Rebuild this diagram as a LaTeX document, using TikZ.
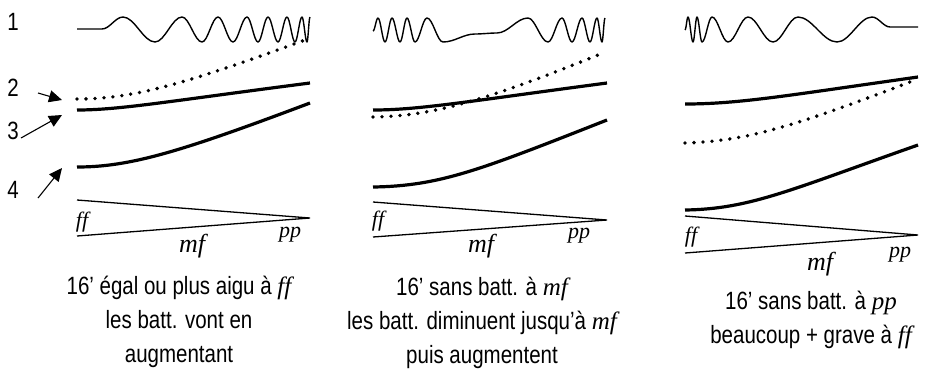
\documentclass[tikz,border=0pt]{standalone}
\usepackage{fontspec}
\setmainfont{Liberation Sans}[FakeStretch=0.82]
\newfontfamily\dynfont{Liberation Serif}
\usepackage{tikz}
\usetikzlibrary{arrows.meta}
\newcommand{\dyn}[1]{{\dynfont\itshape #1}}

\begin{document}
\begin{tikzpicture}[x=1pt,y=-1pt,
  wave/.style={line width=1.4pt,line join=round},
  partial/.style={line width=3.2pt},
  seize/.style={line width=3.8pt,line cap=round,dash pattern=on 0pt off 9pt},
  hairpin/.style={line width=1.3pt,line join=miter},
  num/.style={font=\fontsize{25}{28}\selectfont,inner sep=0pt},
  dynlabel/.style={font=\fontsize{22}{24}\selectfont,inner sep=0pt},
  dynbig/.style={font=\fontsize{26}{28}\selectfont,inner sep=0pt},
  caption/.style={font=\fontsize{25}{34}\selectfont,align=center,
                  inner sep=0pt,anchor=north},
  pointer/.style={-{Triangle[length=13pt,width=12pt]},line width=1.1pt}]
  \useasboundingbox (0,0) rectangle (925,373);

  % labels on the left
  \node[num] (n1) at (13,22) {1};
  \node[num] (n2) at (13,88) {2};
  \node[num] (n3) at (13,131) {3};
  \node[num] (n4) at (13,190) {4};
  \coordinate (s2) at (38,93);   \coordinate (t2) at (62,100);
  \coordinate (s3) at (21,138);  \coordinate (t3) at (62,115);
  \coordinate (s4) at (38,198);  \coordinate (t4) at (62,168);
  \draw[pointer] (s2) -- (t2);
  \draw[pointer] (s3) -- (t3);
  \draw[pointer] (s4) -- (t4);

  % panel 1
  \draw[wave] (77,29) -- (102,29)
    \foreach \x/\y [remember=\x as \lx (initially 102),
                    remember=\y as \ly (initially 29)]
      in {123/17,155/42,182/17,202/42,218/17,233/42,247/17,258/42,
          268/17,278/42,287/17,295/42,302/17,307/42,310/17}
      { cos ({(\lx+\x)/2},{(\ly+\y)/2}) sin (\x,\y) };
  \draw[seize] (77,99) .. controls (130,99) and (180,86) .. (305,40);
  \draw[partial] (77,110) .. controls (120,110) and (170,101) .. (310,83);
  \draw[partial] (77,167) .. controls (130,167) and (180,152) .. (310,103);
  \draw[hairpin] (77,200) -- (310,218) -- (77,236);
  \node[dynlabel] (ff1) at (82,222) {\dyn{ff}};
  \node[dynlabel] (pp1) at (290,235) {\dyn{pp}};
  \node[dynbig] (mf1) at (192,246) {\dyn{mf}};
  \node[caption] (c1) at (179,276)
    {16’ égal ou plus aigu à \dyn{ff}\\les batt. vont en\\augmentant};

  % panel 2
  \draw[wave] (373,31)
    \foreach \x/\y [remember=\x as \lx (initially 373),
                    remember=\y as \ly (initially 31)]
      in {378/18,385/42,392/18,400/42,407/18,415/42,427/18,443/42,
          475/34,497/33,528/18,548/42,562/18,572/42,582/18,590/42,
          597/18,602/42,605/18}
      { cos ({(\lx+\x)/2},{(\ly+\y)/2}) sin (\x,\y) };
  \draw[seize] (373,117) .. controls (430,116) and (480,103) .. (603,53);
  \draw[partial] (373,110) .. controls (420,110) and (470,101) .. (607,83);
  \draw[partial] (373,187) .. controls (440,186) and (480,170) .. (607,120);
  \draw[hairpin] (373,202) -- (607,220) -- (373,237);
  \node[dynlabel] (ff2) at (378,221) {\dyn{ff}};
  \node[dynlabel] (pp2) at (579,236) {\dyn{pp}};
  \node[dynbig] (mf2) at (481,246) {\dyn{mf}};
  \node[caption] (c2) at (482,277)
    {16’ sans batt. à \dyn{mf}\\les batt. diminuent jusqu’à \dyn{mf}\\puis augmentent};

  % panel 3
  \draw[wave] (685,30)
    \foreach \x/\y [remember=\x as \lx (initially 685),
                    remember=\y as \ly (initially 30)]
      in {688/17,693/42,697/17,702/42,712/17,728/42,748/17,773/42,
          798/17,837/42,872/17,890/27}
      { cos ({(\lx+\x)/2},{(\ly+\y)/2}) sin (\x,\y) } -- (918,27);
  \draw[partial] (685,104) .. controls (740,104) and (790,95) .. (918,77);
  \draw[seize] (685,143) .. controls (745,141) and (790,128) .. (910,82);
  \draw[partial] (685,210) .. controls (750,209) and (790,190) .. (918,145);
  \draw[hairpin] (685,216) -- (918,235) -- (685,253);
  \node[dynlabel] (ff3) at (691,237) {\dyn{ff}};
  \node[dynlabel] (pp3) at (900,255) {\dyn{pp}};
  \node[dynbig] (mf3) at (820,264) {\dyn{mf}};
  \node[caption] (c3) at (811,291)
    {16’ sans batt. à \dyn{pp}\\beaucoup + grave à \dyn{ff}};
\end{tikzpicture}
\end{document}
